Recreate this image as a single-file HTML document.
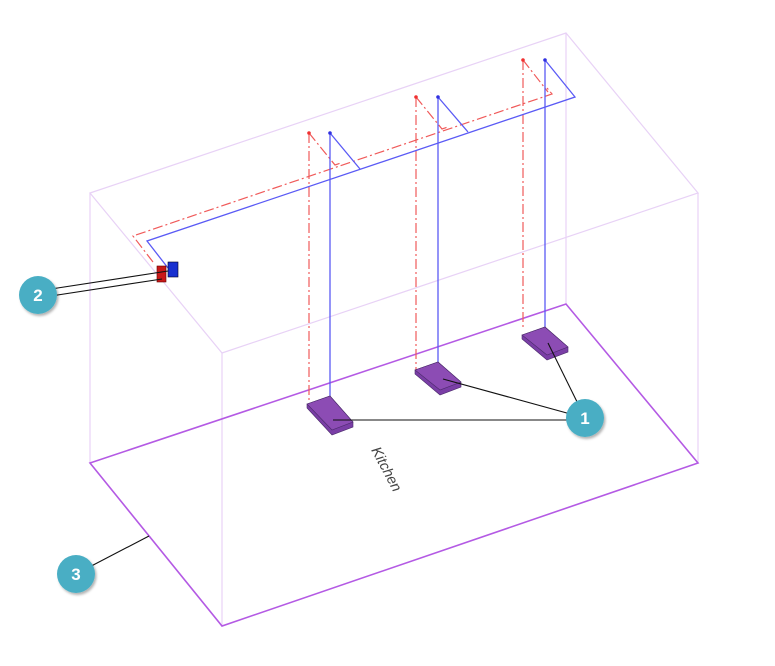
<!DOCTYPE html>
<html><head><style>body{margin:0;background:#fff}svg{display:block}</style></head><body>
<svg width="775" height="666" viewBox="0 0 775 666" xmlns="http://www.w3.org/2000/svg">
<defs><filter id="sh" x="-30%" y="-30%" width="160%" height="160%"><feDropShadow dx="1.5" dy="2" stdDeviation="1.2" flood-color="#000" flood-opacity="0.3"/></filter></defs>
<g stroke="#e8d2f6" stroke-width="1.2" fill="none">
<polygon points="90,193 566,33 698,193 222,353"/>
<line x1="90" y1="193" x2="90" y2="463"/>
<line x1="222" y1="353" x2="222" y2="626"/>
<line x1="698" y1="193" x2="698" y2="463"/>
<line x1="566" y1="33" x2="566" y2="304"/>
</g>
<polygon points="90,463 222,626 698,463 566,304" fill="none" stroke="#b45ae4" stroke-width="1.6"/>
<g stroke="#f05a5a" stroke-width="1.2" fill="none" stroke-dasharray="10,3,2,3">
<polyline points="153,262 133,236 552,94 547,88"/>
<line x1="309" y1="133" x2="309" y2="400"/>
<line x1="416" y1="97" x2="416" y2="372"/>
<line x1="523" y1="60" x2="523" y2="328"/>
<polyline points="309,133 335,165 341,163"/>
<polyline points="416,97 442,129 448,127"/>
<polyline points="523,60 548,92"/>
</g>
<g fill="#f03030"><circle cx="309" cy="133" r="1.8"/><circle cx="416" cy="97" r="1.8"/><circle cx="523" cy="60" r="1.8"/></g>
<g stroke="#5a5af5" stroke-width="1.3" fill="none">
<polyline points="168,268 147,241 575,97 545,60"/>
<line x1="330" y1="133" x2="330" y2="396"/>
<line x1="438" y1="97" x2="438" y2="366"/>
<line x1="545" y1="60" x2="545" y2="327"/>
<line x1="330" y1="133" x2="360" y2="169"/>
<line x1="438" y1="97" x2="468" y2="132"/>
</g>
<g fill="#3030e0"><circle cx="330" cy="133" r="1.8"/><circle cx="438" cy="97" r="1.8"/><circle cx="545" cy="60" r="1.8"/></g>
<g stroke="#4a2a6a" stroke-width="0.6">
<polygon points="307,404 330,396 353,422 353,427 332,435 307,408" fill="#7a3ea6"/>
<polygon points="307,404 330,396 353,422 332,430" fill="#8c4cb4"/>
<polygon points="415,370 438,362 461,382 461,387 440,395 415,374" fill="#7a3ea6"/>
<polygon points="415,370 438,362 461,382 440,390" fill="#8c4cb4"/>
<polygon points="522,335 545,327 568,347 568,352 547,360 522,339" fill="#7a3ea6"/>
<polygon points="522,335 545,327 568,347 547,355" fill="#8c4cb4"/>
</g>
<rect x="157" y="266" width="9" height="16" fill="#c81818" stroke="#600" stroke-width="0.6"/>
<rect x="168" y="262" width="10" height="15" fill="#1830d0" stroke="#002" stroke-width="0.6"/>
<g stroke="#111" stroke-width="1.1">
<line x1="333" y1="420" x2="585" y2="420"/>
<line x1="443" y1="379" x2="585" y2="418"/>
<line x1="548" y1="343" x2="585" y2="418"/>
<line x1="38" y1="291" x2="168" y2="271"/>
<line x1="38" y1="298" x2="162" y2="279"/>
<line x1="76" y1="574" x2="149" y2="536"/>
</g>
<text x="0" y="0" transform="translate(371,450) rotate(62)" font-family="Liberation Sans, sans-serif" font-style="italic" font-size="14.5" fill="#444">Kitchen</text>
<g filter="url(#sh)" fill="#4aaec4"><circle cx="585" cy="418" r="19"/><circle cx="38" cy="295" r="19"/><circle cx="76" cy="574" r="19"/></g>
<g fill="#fff" font-family="Liberation Sans, sans-serif" font-weight="bold" font-size="17" text-anchor="middle">
<text x="585" y="424">1</text><text x="38" y="301">2</text><text x="76" y="580">3</text></g>
</svg>
</body></html>
